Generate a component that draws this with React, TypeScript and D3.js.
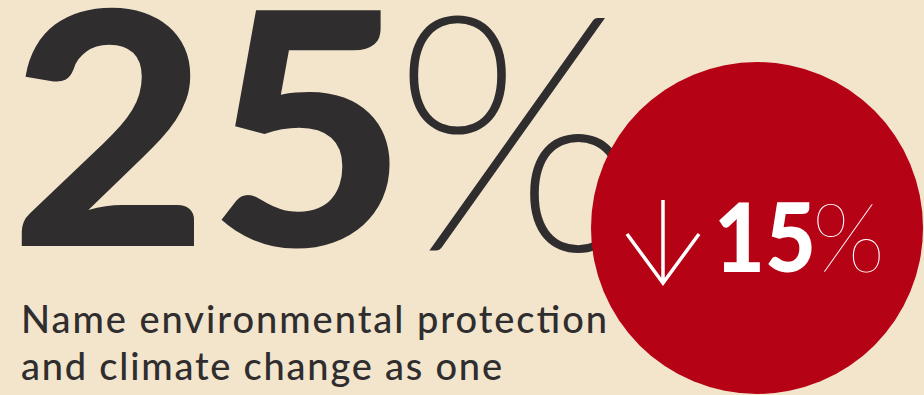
import React from "react";
import * as d3 from "d3";

const mainValue = ["25"];
const mainUnit = ["%"];
const changeValue = ["15"];
const changeUnit = ["%"];
const changeDirection = ["down"];
const labelLines = ["Name environmental protection", "and climate change as one"];

const W = 924;
const H = 395;
const BG = "#f2e5cc";
const DARK = "#2f2d2e";
const RED = "#b50215";

export default function App() {
  const lineY = d3.scaleLinear().domain([0, 1]).range([333, 380]);
  const lineLen = [586, 481];
  const cx = 757, cy = 228, r = 166;
  const arrowX = 663;
  const arrow = d3.path();
  arrow.moveTo(arrowX, 200);
  arrow.lineTo(arrowX, 282);
  arrow.moveTo(627, 234);
  arrow.lineTo(arrowX, 283);
  arrow.lineTo(699, 234);
  return (
    <svg width={W} height={H} style={{ position: "absolute", left: 0, top: 0, display: "block" }}>
      <rect x={0} y={0} width={W} height={H} fill={BG} />
      <text x={10} y={246} fill={DARK} fontFamily="Lato" fontWeight={900} fontSize={325}
        textLength={397} lengthAdjust="spacingAndGlyphs">{mainValue[0]}</text>
      <text x={394} y={248} fill={DARK} stroke={DARK} strokeWidth={5} fontFamily="Lato" fontWeight={200} fontSize={325}
        textLength={248} lengthAdjust="spacingAndGlyphs">{mainUnit[0]}</text>
      {labelLines.map((t, i) => (
        <text key={i} x={21} y={lineY(i)} fill={DARK} fontFamily="Lato" fontWeight={500} fontSize={38}
          textLength={lineLen[i]} lengthAdjust="spacing">{t}</text>
      ))}
      <circle cx={cx} cy={cy} r={r} fill={RED} />
      {changeDirection[0] === "down" && (
        <path d={arrow.toString()} fill="none" stroke="#fff" strokeWidth={3.5} />
      )}
      <text x={714} y={272} fill="#fff" fontFamily="Lato" fontWeight={900} fontSize={96}
        textLength={102} lengthAdjust="spacingAndGlyphs">{changeValue[0]}</text>
      <text x={812} y={272} fill="#fff" fontFamily="Lato" fontWeight={200} fontSize={96}>{changeUnit[0]}</text>
    </svg>
  );
}
